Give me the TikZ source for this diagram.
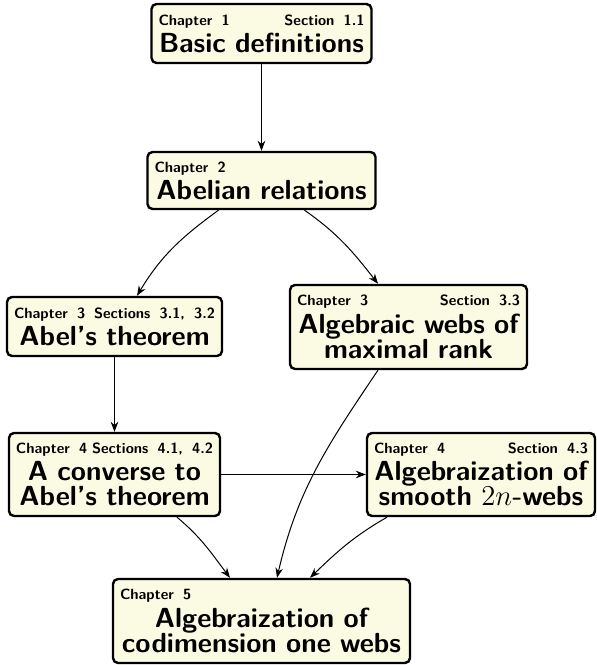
\documentclass[tikz,border=0pt]{standalone}
\usepackage{fontspec}
\usetikzlibrary{arrows.meta,calc}
\definecolor{boxfill}{RGB}{251,251,228}
\newcommand{\smalltxt}{\fontsize{7.4}{8.8}\selectfont}
\newcommand{\bigtxt}{\fontsize{13.8}{12.6}\selectfont}
\newcommand{\titleline}[1]{\hbox to\hsize{\hss#1\hss}}
\newcommand{\headline}[2]{\hbox to\hsize{\smalltxt#1\hfill#2}\vskip1pt}
\begin{document}
\begin{tikzpicture}[x=0.5pt,y=0.5pt,
  chapbox/.style={draw, line width=1.2pt, rounded corners=2.5pt, fill=boxfill,
    inner xsep=3.5pt, inner ysep=0pt, font={\sffamily\bfseries\bigtxt}},
  link/.style={-{Stealth[length=5pt,width=3.8pt]}, line width=0.5pt}]
\useasboundingbox (0,0) rectangle (596,665);
\node[chapbox, text width=103pt, minimum height=29.5pt] (c1) at (261.5,631.5)
  {\headline{Chapter 1}{Section 1.1}\titleline{Basic definitions}};
\node[chapbox, text width=107pt, minimum height=28.5pt] (c2) at (261.5,484.5)
  {\headline{Chapter 2}{}\titleline{Abelian relations}};
\node[chapbox, text width=100.5pt, minimum height=29.5pt] (c3a) at (114.5,338.5)
  {\headline{Chapter 3}{Sections 3.1, 3.2}\titleline{Abel’s theorem}};
\node[chapbox, text width=111.5pt, minimum height=42pt] (c3b) at (408.5,338)
  {\headline{Chapter 3}{Section 3.3}\titleline{Algebraic webs of}\titleline{maximal rank}};
\node[chapbox, text width=98.5pt, minimum height=41.5pt] (c4a) at (114.5,190.5)
  {\headline{Chapter 4}{Sections 4.1, 4.2}\titleline{A converse to}\titleline{Abel’s theorem}};
\node[chapbox, text width=107pt, minimum height=41.5pt] (c4b) at (481,190.5)
  {\headline{Chapter 4}{Section 4.3}\titleline{Algebraization of}\titleline{smooth $2n$-webs}};
\node[chapbox, text width=141.5pt, minimum height=42pt] (c5) at (261.5,44)
  {\headline{Chapter 5}{}\titleline{Algebraization of}\titleline{codimension one webs}};
\draw[link] (c1) -- (c2);
\draw[link] ($(c2.south)+(-43,0)$) to[out=216,in=59] ($(c3a.north)+(22.5,0)$);
\draw[link] ($(c2.south)+(43,0)$) to[out=-35,in=128] ($(c3b.north)+(-30.5,0)$);
\draw[link] (c3a) -- (c4a);
\draw[link] (c4a) -- (c4b);
\draw[link] ($(c3b.south)+(-30.5,0)$) to[out=236,in=77] ($(c5.north)+(15.5,0)$);
\draw[link] ($(c4a.south)+(62.5,0)$) to[out=-40,in=127] ($(c5.north)+(-31.5,0)$);
\draw[link] ($(c4b.south)+(-94,0)$) to[out=210,in=44] ($(c5.north)+(48.5,0)$);
\end{tikzpicture}
\end{document}
